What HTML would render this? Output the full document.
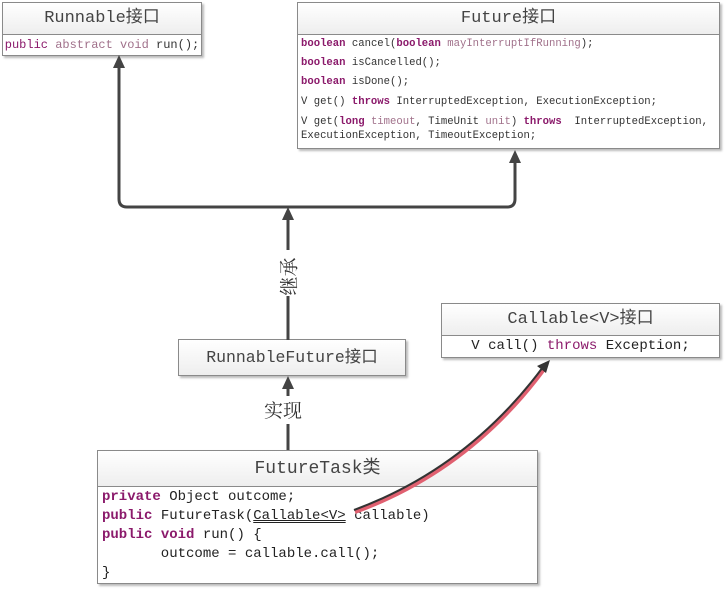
<!DOCTYPE html>
<html><head><meta charset="utf-8"><style>
body{margin:0;width:725px;height:589px;background:#fff;position:relative;overflow:hidden;font-family:"Liberation Mono","Noto Sans CJK SC",monospace;}
.box{position:absolute;border:1px solid #8a8a8a;background:#fff;box-shadow:2px 2px 2px #bbb;box-sizing:border-box;}
.hd{border-bottom:1px solid #8a8a8a;background:linear-gradient(#fff,#eee);text-align:center;color:#444;font-size:17px;box-sizing:border-box;}
.k{color:#8b1a6b;font-weight:bold}
.p{color:#a0708a}
.t{position:absolute;white-space:pre;}
.lbl{position:absolute;background:#fff;font-family:"Noto Serif CJK SC",serif;font-size:19px;color:#333;z-index:5;}
svg{z-index:3}
</style></head><body>

<div class="box" style="left:2px;top:2px;width:200px;height:54px;">
<div class="hd" style="height:32px;line-height:32px;">Runnable接口</div>
<div style="text-align:center;font-size:12px;line-height:21px;color:#333;white-space:nowrap"><span class="k" style="font-weight:normal">public</span> <span class="p">abstract</span> <span class="p">void</span> run();</div>
</div>

<div class="box" style="left:297px;top:2px;width:423px;height:147px;">
<div class="hd" style="height:32px;line-height:32px;">Future接口</div>
<div style="font-size:10.6px;color:#333;position:relative">
<div class="t" style="left:3px;top:3px"><span class="k">boolean</span> cancel(<span class="k">boolean</span> <span class="p">mayInterruptIfRunning</span>);</div>
<div class="t" style="left:3px;top:22px"><span class="k">boolean</span> isCancelled();</div>
<div class="t" style="left:3px;top:41px"><span class="k">boolean</span> isDone();</div>
<div class="t" style="left:3px;top:61px">V get() <span class="k">throws</span> InterruptedException, ExecutionException;</div>
<div class="t" style="left:3px;top:81px">V get(<span class="k">long</span> <span class="p">timeout</span>, TimeUnit <span class="p">unit</span>) <span class="k">throws</span>  InterruptedException,</div>
<div class="t" style="left:3px;top:95px">ExecutionException, TimeoutException;</div>
</div></div>

<div class="box" style="left:178px;top:339px;width:228px;height:37px;">
<div class="hd" style="height:35px;line-height:35px;border:none;font-size:16.5px">RunnableFuture接口</div></div>

<div class="box" style="left:441px;top:303px;width:279px;height:55px;">
<div class="hd" style="height:32px;line-height:32px;">Callable&lt;V&gt;接口</div>
<div style="text-align:center;font-size:14px;line-height:21px;color:#222">V call() <span class="p" style="color:#8b1a6b">throws</span> Exception;</div></div>

<div class="box" style="left:97px;top:450px;width:441px;height:134px;">
<div class="hd" style="height:36px;line-height:36px;font-size:18px">FutureTask类</div>
<div style="font-size:14px;color:#222;position:relative">
<div class="t" style="left:4px;top:2px"><span class="k">private</span> Object outcome;</div>
<div class="t" style="left:4px;top:21px"><span class="k">public</span> FutureTask(<span style="text-decoration:underline double">Callable&lt;V&gt;</span> callable)</div>
<div class="t" style="left:4px;top:40px"><span class="k">public</span> <span class="k">void</span> run() {</div>
<div class="t" style="left:4px;top:59px">       outcome = callable.call();</div>
<div class="t" style="left:4px;top:78px">}</div>
</div></div>

<svg width="725" height="589" style="position:absolute;left:0;top:0">
<g stroke="#444" stroke-width="3" fill="none">
<path d="M119 66 V199 Q119 207 127 207 H507 Q515 207 515 199 V160"/>
<path d="M288 340 V216"/>
<path d="M288 450 V386"/>
</g>
<g fill="#444">
<polygon points="119,55 113,68 125,68"/>
<polygon points="515,150 509,163 521,163"/>
<polygon points="288,207 282,220 294,220"/>
<polygon points="288,376 282,389 294,389"/>
</g>
<path d="M355 512 Q470 470 545 368" stroke="#e06070" stroke-width="4" fill="none"/>
<path d="M354 510 Q468 468 543 367" stroke="#333" stroke-width="2" fill="none"/>
<polygon points="550,360 537,366 546,373" fill="#333"/>
</svg>
<div class="lbl" style="left:274px;top:250px;width:28px;height:46px;"><div style="transform:rotate(-90deg);position:absolute;left:-9px;top:9px;width:46px;">继承</div></div>
<div class="lbl" style="left:264px;top:396px;height:28px;line-height:28px;">实现</div>
</body></html>
